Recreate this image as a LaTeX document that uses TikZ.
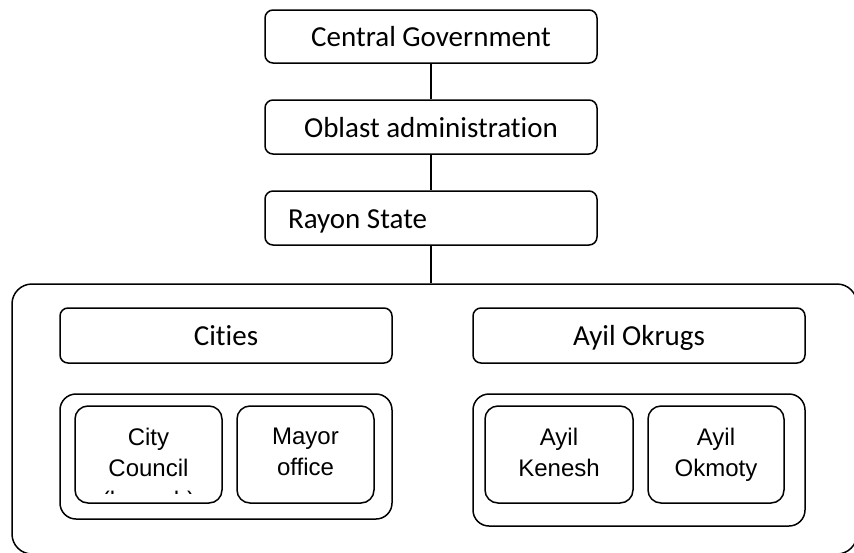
\documentclass[tikz,border=0pt]{standalone}
\usepackage{fontspec}
\setmainfont{Carlito}[RawFeature=-liga]
\newfontfamily\arialfont{Liberation Sans}
\begin{document}
\begin{tikzpicture}[x=1pt,y=-1pt,line width=1.5pt,
  bigbox/.style={draw, rounded corners=8pt, minimum width=332pt, inner sep=0pt, text height=20pt, text depth=0pt, font=\fontsize{29}{35}\selectfont},
  groupbox/.style={draw, rounded corners=16pt, minimum width=332pt, inner sep=0pt},
  smallbox/.style={draw, rounded corners=13pt, minimum height=97pt, inner sep=0pt},
  smalltext/.style={align=center, inner sep=0pt, font=\arialfont\fontsize{24}{31}\selectfont},
  regionbox/.style={draw, rounded corners=20pt, inner sep=0pt}]
\clip (0,0) rectangle (854,552);
\node[bigbox, minimum height=53pt] (cg) at (431,36.5) {Central Government};
\node[bigbox, minimum height=54pt] (ob) at (431,127) {Oblast administration};
\node[bigbox, minimum height=54pt] (ra) at (431,218) {\makebox[286pt][l]{Rayon State}};
\node[regionbox, minimum width=845pt, minimum height=270pt] (reg) at (434.5,419) {};
\node[bigbox, minimum height=55pt] (ci) at (226,335.5) {Cities};
\node[bigbox, minimum height=55pt] (ay) at (639,335.5) {Ayil Okrugs};
\node[groupbox, minimum height=125pt] (cgr) at (226,456.5) {};
\node[groupbox, minimum height=132pt] (agr) at (639,460) {};
\node[smallbox, minimum width=147pt] (cc) at (148.5,454.5) {};
\node[smallbox, minimum width=137pt] (mo) at (305.5,454.5) {};
\node[smallbox, minimum width=148pt] (ak) at (559,454.5) {};
\node[smallbox, minimum width=136pt] (ao) at (716,454.5) {};
\node[smalltext, anchor=north] (cct) at (148.5,427) {City\\Council};
\node[smalltext, anchor=north] (mot) at (305.5,427) {Mayor\\office};
\node[smalltext, anchor=north] (akt) at (559,427) {Ayil\\Kenesh};
\node[smalltext, anchor=north] (aot) at (716,427) {Ayil\\Okmoty};
\begin{scope}
\clip (76,480) rectangle (221,493);
\node[smalltext, anchor=base] (ccx) at (148.5,508) {(kenesh)};
\end{scope}
\draw (cg) -- (ob);
\draw (ob) -- (ra);
\draw (ra.south) -- (ra.south |- reg.north);
\end{tikzpicture}
\end{document}
